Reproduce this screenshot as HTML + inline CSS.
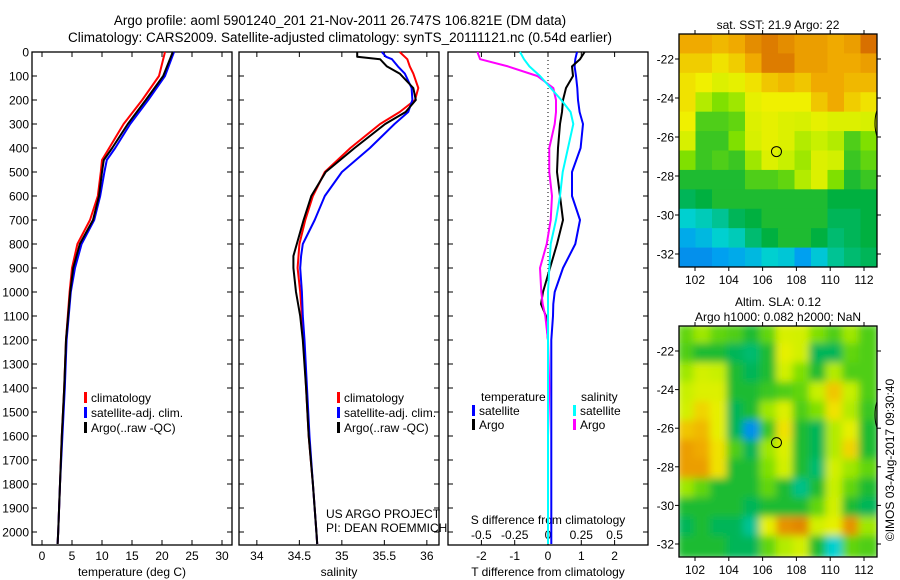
<!DOCTYPE html>
<html><head><meta charset="utf-8"><style>
body{margin:0;background:#fff;}
svg{display:block;font-family:"Liberation Sans",sans-serif;}
</style></head><body>
<svg id="c" width="900" height="580" viewBox="0 0 900 580"></svg>
<script>
// ---------- data ----------
const depthT=[0,100,200,300,400,450,500,600,700,800,900,1000,1200,1400,1600,1800,2000,2050];
const tempArgo=[21.8,20.2,17.3,14.3,11.7,10.3,10.0,9.5,8.5,6.3,5.2,4.7,4.0,3.7,3.3,3.0,2.7,2.6];
const tempClim=[20.5,19.5,16.7,13.6,11.2,10.0,9.8,9.3,8.0,5.9,5.0,4.6,4.0,3.7,3.3,3.0,2.7,2.6];
const tempSat=[22.0,20.5,17.7,14.7,12.2,10.8,10.4,9.7,8.7,6.6,5.5,4.8,4.1,3.8,3.4,3.0,2.7,2.6];
const depthS=[0,20,30,60,90,150,200,250,300,400,500,600,700,800,850,900,1000,1100,1200,1400,1600,1800,2000,2050];
const salArgo=[35.18,35.18,35.45,35.53,35.68,35.84,35.87,35.75,35.51,35.15,34.81,34.64,34.55,34.47,34.43,34.43,34.46,34.51,34.54,34.58,34.61,34.66,34.70,34.71];
const salClim=[35.68,35.74,35.77,35.80,35.84,35.90,35.86,35.68,35.45,35.10,34.80,34.66,34.57,34.50,34.49,34.48,34.51,34.53,34.55,34.58,34.61,34.66,34.70,34.71];
const salSat=[35.47,35.52,35.59,35.66,35.74,35.82,35.83,35.78,35.62,35.33,35.00,34.80,34.68,34.54,34.52,34.51,34.53,34.54,34.56,34.59,34.62,34.66,34.70,34.71];
const depthD=[0,30,60,100,150,200,250,300,400,500,600,700,800,900,1000,1050,1100,1200,1400,1600,1800,2000,2050];
const dTSat=[0.87,0.82,0.80,0.84,0.88,0.90,0.95,1.05,0.98,0.72,0.72,0.96,0.82,0.45,0.2,0.16,0.15,0.1,0.1,0.1,0.1,0.1,0.1];
const dTArgo=[1.1,0.96,0.72,0.75,0.54,0.45,0.42,0.36,0.3,0.27,0.36,0.45,0.27,0.06,-0.15,-0.21,-0.06,0,0,0,0,0,0];
const dSArgo=[-0.53,-0.51,-0.3,-0.08,0.04,0.06,0.06,0.05,0.01,0.01,0.03,0.02,-0.01,-0.06,-0.05,-0.04,-0.02,0,0.01,0,0,0,0];
const dSSat=[-0.21,-0.18,-0.14,-0.06,0.02,0.10,0.17,0.19,0.15,0.11,0.09,0.06,0.02,0.01,0,0,0,0,0,0,0,0,0];
const yTicks=[0,100,200,300,400,500,600,700,800,900,1000,1100,1200,1300,1400,1500,1600,1700,1800,1900,2000];
const tTicks=[0,5,10,15,20,25,30];
const sTicks=[34,34.5,35,35.5,36];
const dTTicks=[-2,-1,0,1,2];
const dSTicks=[-0.5,-0.25,0,0.25,0.5];
const lonTicks=[102,104,106,108,110,112];
const latTicks=[-22,-24,-26,-28,-30,-32];
const sstGrid=[
[0.8,0.8,0.78,0.8,0.85,0.88,0.85,0.82,0.82,0.8,0.82,0.9],
[0.75,0.75,0.72,0.75,0.8,0.88,0.88,0.82,0.82,0.8,0.8,0.82],
[0.72,0.7,0.66,0.68,0.72,0.76,0.78,0.76,0.8,0.8,0.78,0.78],
[0.72,0.6,0.55,0.58,0.68,0.7,0.7,0.7,0.76,0.8,0.75,0.72],
[0.7,0.5,0.5,0.52,0.66,0.68,0.66,0.65,0.68,0.66,0.66,0.65],
[0.65,0.48,0.48,0.55,0.65,0.68,0.66,0.6,0.62,0.6,0.5,0.55],
[0.55,0.48,0.5,0.48,0.58,0.66,0.62,0.58,0.66,0.64,0.48,0.52],
[0.45,0.45,0.45,0.45,0.5,0.5,0.52,0.6,0.66,0.55,0.45,0.48],
[0.4,0.42,0.45,0.45,0.45,0.45,0.45,0.45,0.45,0.42,0.42,0.42],
[0.3,0.32,0.35,0.4,0.42,0.45,0.45,0.45,0.45,0.4,0.4,0.42],
[0.22,0.25,0.3,0.32,0.38,0.42,0.45,0.45,0.42,0.38,0.4,0.42],
[0.15,0.15,0.2,0.22,0.25,0.3,0.28,0.2,0.28,0.35,0.38,0.4]];
const slaGrid=[
[0.52,0.58,0.52,0.5,0.45,0.52,0.65,0.64,0.55,0.5,0.58,0.5],
[0.5,0.45,0.45,0.4,0.38,0.45,0.68,0.64,0.4,0.4,0.52,0.5],
[0.58,0.64,0.62,0.45,0.4,0.45,0.64,0.55,0.45,0.6,0.5,0.5],
[0.62,0.66,0.66,0.45,0.45,0.48,0.5,0.52,0.62,0.76,0.62,0.5],
[0.64,0.74,0.68,0.4,0.45,0.58,0.66,0.5,0.55,0.72,0.6,0.48],
[0.76,0.78,0.68,0.4,0.15,0.48,0.72,0.45,0.4,0.6,0.68,0.45],
[0.82,0.8,0.72,0.5,0.4,0.58,0.66,0.45,0.4,0.6,0.74,0.45],
[0.82,0.82,0.72,0.45,0.45,0.55,0.64,0.45,0.38,0.64,0.58,0.52],
[0.58,0.52,0.45,0.45,0.45,0.52,0.45,0.36,0.45,0.62,0.52,0.45],
[0.45,0.45,0.45,0.45,0.4,0.45,0.45,0.45,0.52,0.64,0.45,0.4],
[0.4,0.45,0.4,0.4,0.35,0.68,0.84,0.86,0.64,0.68,0.84,0.58],
[0.45,0.45,0.45,0.4,0.4,0.52,0.6,0.64,0.45,0.3,0.52,0.5]];
const argoLon=106.821, argoLat=-26.747;

// ---------- helpers ----------
const svg=document.getElementById('c');
const NS='http://www.w3.org/2000/svg';
function mk(tag,attrs,parent){const e=document.createElementNS(NS,tag);for(const k in attrs)e.setAttribute(k,attrs[k]);(parent||svg).appendChild(e);return e;}
function txt(x,y,s,anchor,size,parent,rot){const e=mk('text',{x:x,y:y,'font-size':size||12,'text-anchor':anchor||'start',fill:'#000'},parent);if(rot)e.setAttribute('transform',rot);e.textContent=s;return e;}

const top0=52,bot=545;
const yD=d=>top0+d*(532-top0)/2000;
function panel(name,x0,x1){
  const g=mk('g',{});
  
  
  mk('rect',{x:x0,y:top0,width:x1-x0,height:bot-top0,fill:'#fff',stroke:'#000','stroke-width':1.3},g);
  yTicks.forEach(d=>{mk('line',{x1:x0,x2:x0+5,y1:yD(d),y2:yD(d),stroke:'#000'},g);mk('line',{x1:x1-5,x2:x1,y1:yD(d),y2:yD(d),stroke:'#000'},g);});
  return g;
}
function line(g,xs,ds,fx,color,name,w){
  const p=mk('polyline',{points:xs.map((v,i)=>fx(v).toFixed(1)+','+yD(ds[i]).toFixed(1)).join(' '),fill:'none',stroke:color,'stroke-width':w||2,'stroke-linejoin':'round'},g);
  
  
}
function legendEntry(g,x,y,color,label,name){
  const e=mk('g',{},g);
  
  
  mk('rect',{x:x,y:y-10,width:3,height:11,fill:color},e);
  txt(x+7,y,label,'start',12,e);
}

const t1=txt(340,25,'Argo profile: aoml 5901240_201 21-Nov-2011 26.747S 106.821E (DM data)','middle',13.5);

const t2=txt(340,42,'Climatology: CARS2009. Satellite-adjusted climatology: synTS_20111121.nc (0.54d earlier)','middle',13.5);


const yl=mk('g',{});
yTicks.forEach(d=>txt(29,yD(d)+4.5,String(d),'end',12,yl));

const fT=v=>32+(v+1.667)*6;
const p1=panel('temperature-panel',32,232);
tTicks.forEach(v=>{mk('line',{x1:fT(v),x2:fT(v),y1:bot,y2:bot-5,stroke:'#000'},p1);mk('line',{x1:fT(v),x2:fT(v),y1:top0,y2:top0+5,stroke:'#000'},p1);txt(fT(v),560,String(v),'middle',12,p1);});
txt(132,576,'temperature (deg C)','middle',12,p1);
line(p1,tempClim,depthT,fT,'#f00','temp-climatology-line');
line(p1,tempSat,depthT,fT,'#00f','temp-satellite-line');
line(p1,tempArgo,depthT,fT,'#000','temp-argo-line');
legendEntry(p1,84,402,'#f00','climatology','legend-climatology');
legendEntry(p1,84,417,'#00f','satellite-adj. clim.','legend-satellite');
legendEntry(p1,84,432,'#000','Argo(..raw -QC)','legend-argo');

const fS=v=>239+(v-33.79)*85;
const p2=panel('salinity-panel',239,439);
sTicks.forEach(v=>{mk('line',{x1:fS(v),x2:fS(v),y1:bot,y2:bot-5,stroke:'#000'},p2);mk('line',{x1:fS(v),x2:fS(v),y1:top0,y2:top0+5,stroke:'#000'},p2);txt(fS(v),560,String(v),'middle',12,p2);});
txt(339,576,'salinity','middle',12,p2);
line(p2,salClim,depthS,fS,'#f00','sal-climatology-line');
line(p2,salSat,depthS,fS,'#00f','sal-satellite-line');
line(p2,salArgo,depthS,fS,'#000','sal-argo-line');
legendEntry(p2,337,402,'#f00','climatology','legend-climatology-2');
legendEntry(p2,337,417,'#00f','satellite-adj. clim.','legend-satellite-2');
legendEntry(p2,337,432,'#000','Argo(..raw -QC)','legend-argo-2');
txt(326,518,'US ARGO PROJECT','start',12,p2);
txt(326,532,'PI: DEAN ROEMMICH','start',12,p2);

const fDT=v=>548+v*33.3;
const fDS=v=>548+v*133.2;
const p3=panel('difference-panel',448,648);
mk('line',{x1:548,x2:548,y1:top0,y2:bot,stroke:'#000','stroke-dasharray':'1,3'},p3);
dTTicks.forEach(v=>{mk('line',{x1:fDT(v),x2:fDT(v),y1:bot,y2:bot-5,stroke:'#000'},p3);mk('line',{x1:fDT(v),x2:fDT(v),y1:top0,y2:top0+5,stroke:'#000'},p3);txt(fDT(v),560,String(v),'middle',12,p3);});
dSTicks.forEach(v=>txt(fDS(v),539,String(v),'middle',12,p3));
txt(548,524,'S difference from climatology','middle',12,p3);
txt(548,576,'T difference from climatology','middle',12,p3);
line(p3,dTSat,depthD,fDT,'#00f','dT-satellite-line');
line(p3,dTArgo,depthD,fDT,'#000','dT-argo-line');
line(p3,dSArgo,depthD,fDS,'#f0f','dS-argo-line');
line(p3,dSSat,depthD,fDS,'#0ff','dS-satellite-line');
txt(481,401,'temperature','start',12,p3);
legendEntry(p3,472,415,'#00f','satellite','legend-dT-satellite');
legendEntry(p3,472,429,'#000','Argo','legend-dT-argo');
txt(581,401,'salinity','start',12,p3);
legendEntry(p3,573,415,'#0ff','satellite','legend-dS-satellite');
legendEntry(p3,573,429,'#f0f','Argo','legend-dS-argo');

const stops=[[0,[16,96,224]],[0.2,[0,160,240]],[0.3,[0,208,208]],[0.42,[0,176,64]],[0.55,[128,224,0]],[0.62,[200,240,0]],[0.7,[240,240,0]],[0.8,[240,170,0]],[0.9,[216,112,0]],[1,[176,48,0]]];
function cmap(v){for(let i=1;i<stops.length;i++){if(v<=stops[i][0]){const a=stops[i-1],b=stops[i],t=(v-a[0])/(b[0]-a[0]);return 'rgb('+a[1].map((c,k)=>Math.round(c+(b[1][k]-c)*t)).join(',')+')';}}return 'rgb(176,48,0)';}
function map(name,grid,y0,y1,blur,titleLines){
  const x0=679,x1=877;
  const fx=lon=>695+(lon-102)*16.9;
  const fy=lat=>(y0+25)+(-22-lat)*(y1-y0-38)/10;
  const g=mk('g',{});
  
  
  const cid=name+'-clip';
  const cp=mk('clipPath',{id:cid},g);mk('rect',{x:x0,y:y0,width:x1-x0,height:y1-y0},cp);
  const cells=mk('g',{'clip-path':'url(#'+cid+')'},g);
  const inner=mk('g',blur?{filter:'url(#blur)'}:{},cells);
  const nr=grid.length,nc=grid[0].length,cw=(x1-x0)/nc,ch=(y1-y0)/nr;
  grid.forEach((row,r)=>row.forEach((v,c)=>{
    const rc=mk('rect',{x:x0+c*cw-(blur?2:0),y:y0+r*ch-(blur?2:0),width:cw+(blur?4:0.6),height:ch+(blur?4:0.6),fill:cmap(v)},inner);
    
    
  }));
  mk('ellipse',{cx:x1+3,cy:fy(-25.3),rx:5,ry:16,fill:'none',stroke:'#000','stroke-width':1},cells);
  mk('rect',{x:x0,y:y0,width:x1-x0,height:y1-y0,fill:'none',stroke:'#000','stroke-width':1.3},g);
  lonTicks.forEach(l=>{mk('line',{x1:fx(l),x2:fx(l),y1:y0-4,y2:y0,stroke:'#000'},g);mk('line',{x1:fx(l),x2:fx(l),y1:y1,y2:y1+4,stroke:'#000'},g);txt(fx(l),y1+17,String(l),'middle',12,g);});
  latTicks.forEach(l=>{mk('line',{x1:x0-4,x2:x0,y1:fy(l),y2:fy(l),stroke:'#000'},g);mk('line',{x1:x1,x2:x1+4,y1:fy(l),y2:fy(l),stroke:'#000'},g);txt(x0-5,fy(l)+4.5,String(l),'end',12,g);});
  const m=mk('circle',{cx:fx(argoLon),cy:fy(argoLat),r:5,fill:'none',stroke:'#000','stroke-width':1},g);
  
  titleLines.forEach((s,i)=>txt(778,y0-20+15*i-(titleLines.length-1)*15+15,s,'middle',12,g));
}
const defs=mk('defs',{});
const f=mk('filter',{id:'blur',x:'-5%',y:'-5%',width:'110%',height:'110%'},defs);
mk('feGaussianBlur',{stdDeviation:4},f);
map('sst-map',sstGrid,34,267,false,['sat. SST: 21.9 Argo: 22']);
map('sla-map',slaGrid,326,557,true,['Altim. SLA: 0.12','Argo h1000: 0.082 h2000: NaN']);
txt(894,460,'©IMOS 03-Aug-2017 09:30:40','middle',12,null,'rotate(-90 894 460)');
</script>
</body></html>
